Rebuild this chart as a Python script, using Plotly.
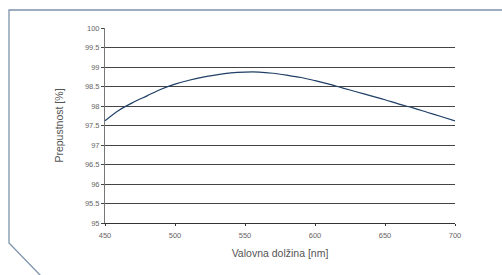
import plotly.graph_objects as go

wavelength = [450, 460, 470, 480, 490, 500, 510, 520, 530, 540, 550, 560, 570, 580, 590,
              600, 610, 620, 630, 640, 650, 660, 670, 680, 690, 700]
transmittance = [97.62, 97.89, 98.09, 98.26, 98.43, 98.56, 98.66, 98.74, 98.80, 98.85, 98.87,
                 98.87, 98.84, 98.79, 98.73, 98.65, 98.56, 98.46, 98.36, 98.26, 98.16, 98.05,
                 97.95, 97.84, 97.73, 97.62]
x_ticks = [450, 500, 550, 600, 650, 700]
y_ticks = [95, 95.5, 96, 96.5, 97, 97.5, 98, 98.5, 99, 99.5, 100]
x_title = "Valovna dolžina [nm]"
y_title = "Prepustnost [%]"

fig = go.Figure()
fig.add_trace(go.Scatter(x=wavelength, y=transmittance, mode="lines",
                         line=dict(color="#1f3f66", width=1.2, shape="spline"),
                         hoverinfo="skip", showlegend=False))

W, H = 502, 275
L, R, T, B = 105, 47, 28, 52
pw, ph = W - L - R, H - T - B

def px(x):
    return (x - L) / pw

def py(y):
    return (H - B - y) / ph

path = "M {:.4f} {:.4f} L {:.4f} {:.4f} L {:.4f} {:.4f} L {:.4f} {:.4f}".format(
    px(503), py(10), px(9), py(10), px(9), py(243), px(41), py(276))
fig.add_shape(type="path", path=path, xref="paper", yref="paper",
              line=dict(color="#7d93ab", width=1.3))

fig.update_layout(
    width=W, height=H,
    margin=dict(l=L, r=R, t=T, b=B),
    paper_bgcolor="white", plot_bgcolor="white",
    font=dict(family="Liberation Sans, Arial, sans-serif", color="#666"),
    xaxis=dict(range=[450, 700], tickvals=x_ticks, ticktext=[str(v) for v in x_ticks],
               showgrid=False, zeroline=False, showline=True, linecolor="#333", linewidth=1,
               ticks="outside", ticklen=2, tickcolor="#333", ticklabelstandoff=3,
               tickfont=dict(size=7.5, color="#666"),
               title=dict(text=x_title, font=dict(size=10.5, color="#555"), standoff=10)),
    yaxis=dict(range=[95, 100], tickvals=y_ticks,
               ticktext=["95", "95.5", "96", "96.5", "97", "97.5", "98", "98.5", "99", "99.5", "100"],
               showgrid=True, gridcolor="#444", gridwidth=1, zeroline=False,
               showline=True, linecolor="#777", linewidth=1,
               ticks="outside", ticklen=3, tickcolor="#444",
               tickfont=dict(size=7.5, color="#666"),
               title=dict(text=y_title, font=dict(size=10.5, color="#555"), standoff=19)),
)

fig.write_html("out.html",
               config={"displayModeBar": False, "staticPlot": True},
               post_script="document.body.style.margin='0';"
                           "document.documentElement.style.overflow='hidden';")
